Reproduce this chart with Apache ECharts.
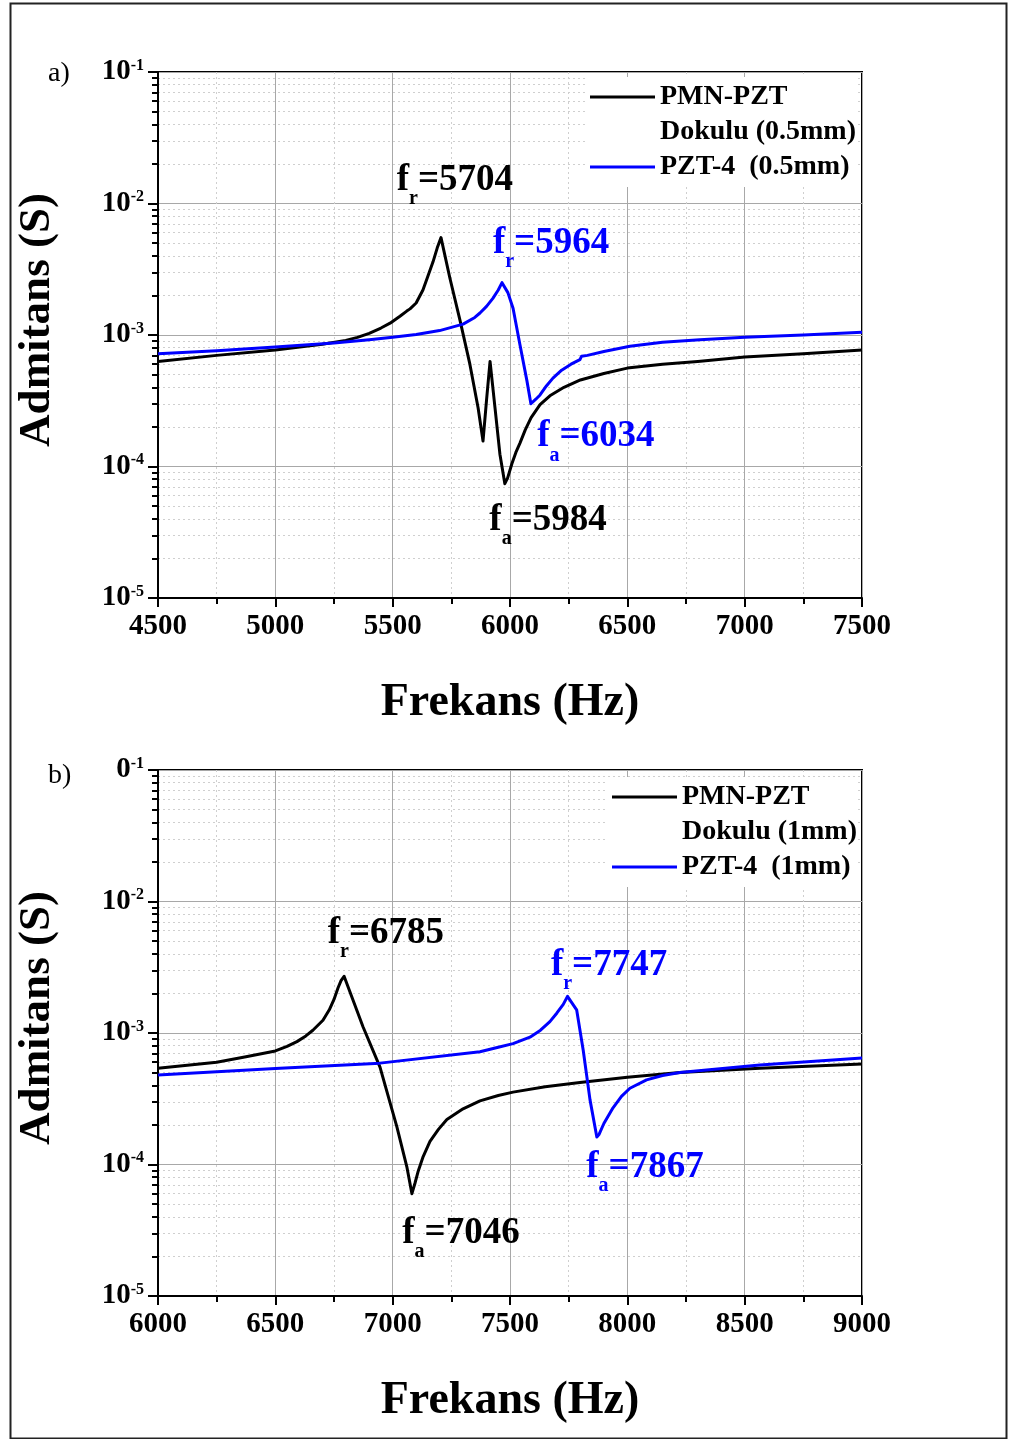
<!DOCTYPE html>
<html lang="tr">
<head>
    <meta charset="UTF-8">
    <title>Admitans - Frekans</title>
    <script src="https://cdn.jsdelivr.net/npm/echarts@6/dist/echarts.min.js"></script>
</head>
<body>
<div id="chart"></div>
<script type="text/javascript">
    // a) 0.5mm
    var topBlackFreq = [4500,4750,5000,5200,5300,5350,5400,5450,5489,5531,5560,5574,5600,5629,5650,5672,5690,5706,5744,5787,5829,5864,5885,5900,5915,5936,5957,5978,5990,6008,6025,6042,6065,6090,6128,6170,6230,6300,6400,6500,6650,6800,7000,7250,7500];
    var topBlackVal  = [6.3e-4,7.0e-4,7.7e-4,8.5e-4,9.1e-4,9.6e-4,1.03e-3,1.13e-3,1.23e-3,1.39e-3,1.52e-3,1.58e-3,1.75e-3,2.2e-3,2.8e-3,3.6e-3,4.6e-3,5.5e-3,2.7e-3,1.29e-3,6.0e-4,2.8e-4,1.56e-4,3.2e-4,6.3e-4,2.8e-4,1.24e-4,7.4e-5,8.2e-5,1.05e-4,1.28e-4,1.5e-4,1.9e-4,2.35e-4,2.95e-4,3.45e-4,4.0e-4,4.55e-4,5.1e-4,5.6e-4,6.0e-4,6.3e-4,6.8e-4,7.2e-4,7.7e-4];
    var topBlueFreq  = [4500,4750,5000,5250,5400,5500,5600,5700,5800,5850,5872,5900,5927,5950,5966,5991,6013,6042,6072,6089,6110,6128,6155,6183,6220,6260,6298,6305,6330,6400,6511,6650,6809,7000,7250,7500];
    var topBlueVal   = [7.2e-4,7.6e-4,8.1e-4,8.7e-4,9.2e-4,9.6e-4,1.01e-3,1.08e-3,1.21e-3,1.36e-3,1.47e-3,1.65e-3,1.9e-3,2.2e-3,2.5e-3,2.1e-3,1.6e-3,8.5e-4,4.5e-4,3.0e-4,3.25e-4,3.5e-4,4.1e-4,4.7e-4,5.4e-4,6.0e-4,6.5e-4,6.9e-4,7.0e-4,7.5e-4,8.2e-4,8.8e-4,9.2e-4,9.6e-4,1.0e-3,1.05e-3];

    // b) 1mm
    var botBlackFreq = [6000,6250,6375,6500,6550,6592,6630,6660,6703,6730,6750,6767,6780,6793,6874,6946,7018,7061,7082,7095,7108,7130,7159,7195,7231,7300,7372,7450,7513,7650,7798,8000,8224,8565,9000];
    var botBlackVal  = [5.4e-4,6.0e-4,6.6e-4,7.3e-4,7.9e-4,8.6e-4,9.5e-4,1.05e-3,1.25e-3,1.5e-3,1.8e-3,2.2e-3,2.5e-3,2.7e-3,1.11e-3,5.5e-4,1.93e-4,9.5e-5,6.0e-5,7.2e-5,8.8e-5,1.15e-4,1.5e-4,1.85e-4,2.2e-4,2.65e-4,3.05e-4,3.35e-4,3.55e-4,3.9e-4,4.2e-4,4.6e-4,5.0e-4,5.4e-4,5.8e-4];
    var botBlueFreq  = [6000,6520,6946,7372,7450,7513,7585,7630,7670,7700,7727,7745,7752,7784,7812,7841,7870,7880,7900,7939,7975,8011,8082,8150,8224,8565,9000];
    var botBlueVal   = [4.8e-4,5.4e-4,5.9e-4,7.2e-4,7.8e-4,8.3e-4,9.3e-4,1.05e-3,1.22e-3,1.42e-3,1.65e-3,1.9e-3,1.95e-3,1.5e-3,7.4e-4,3.1e-4,1.62e-4,1.7e-4,2.05e-4,2.7e-4,3.3e-4,3.8e-4,4.4e-4,4.75e-4,5.0e-4,5.7e-4,6.45e-4];

    // etiketler (f_r, f_a)
    var annTopX    = [5765, 6175, 6366, 6162];
    var annTopY    = [1.5e-2, 4.97e-3, 1.68e-4, 3.9e-5];
    var annTopSub  = ['r', 'r', 'a', 'a'];
    var annTopText = ['=5704', '=5964', '=6034', '=5984'];
    var annTopSer  = [0, 1, 1, 0];
    var annBotX    = [6971, 7922, 8075, 7291];
    var annBotY    = [5.7e-3, 3.26e-3, 9.5e-5, 3.0e-5];
    var annBotSub  = ['r', 'r', 'a', 'a'];
    var annBotText = ['=6785', '=7747', '=7867', '=7046'];
    var annBotSer  = [0, 1, 1, 0];

    var yTickValues   = [1e-5, 1e-4, 1e-3, 1e-2, 1e-1];
    var yTickBaseTop  = ['10', '10', '10', '10', '10'];
    var yTickBaseBot  = ['10', '10', '10', '10', '0'];
    var legendTop = ['PMN-PZT', 'Dokulu (0.5mm)', 'PZT-4  (0.5mm)'];
    var legendBot = ['PMN-PZT ', 'Dokulu (1mm)', 'PZT-4  (1mm)'];

    var FONT = '"Liberation Serif", "Times New Roman", serif';
    var BLUE = '#0000ff';

    var minorTicks = [];
    for (var d = -5; d < -1; d++) {
        for (var m = 2; m <= 9; m++) minorTicks.push(m * Math.pow(10, d));
    }

    function zip(xs, ys) {
        return xs.map(function (x, i) { return [x, ys[i]]; });
    }

    var subRich = {
        f: {fontFamily: FONT, fontWeight: 'bold', fontSize: 37, lineHeight: 37, verticalAlign: 'top'},
        s: {fontFamily: FONT, fontWeight: 'bold', fontSize: 20, lineHeight: 20, verticalAlign: 'top', padding: [27, 0, 0, 0]}
    };

    function marks(xs, ys, subs, texts, sers, idx, color) {
        var pts = [];
        sers.forEach(function (s, i) {
            if (s !== idx) return;
            pts.push({
                coord: [xs[i], ys[i]],
                label: {formatter: '{f|f}{s|' + subs[i] + '}{f|' + texts[i] + '}', color: color}
            });
        });
        return {
            symbol: 'circle', symbolSize: 0, silent: true,
            label: {show: true, position: 'inside', rich: subRich},
            data: pts
        };
    }

    function xAxisCfg(gi, min, max) {
        return {
            type: 'value', gridIndex: gi, min: min, max: max, interval: 500,
            axisLine: {lineStyle: {color: '#000', width: 2}},
            axisTick: {length: 9, lineStyle: {color: '#000', width: 2}},
            minorTick: {show: true, splitNumber: 2, length: 6, lineStyle: {color: '#000', width: 2}},
            splitLine: {show: true, lineStyle: {color: '#a8a8a8', width: 1}},
            minorSplitLine: {show: true, lineStyle: {color: '#cfcfcf', width: 1, type: [2, 3]}},
            axisLabel: {
                color: '#000', fontFamily: FONT, fontWeight: 'bold', fontSize: 29, margin: 14,
                formatter: function (v) { return String(v); }
            },
            name: 'Frekans (Hz)', nameLocation: 'middle', nameGap: 82,
            nameTextStyle: {color: '#000', fontFamily: FONT, fontWeight: 'bold', fontSize: 46}
        };
    }

    function yMajorCfg(gi, bases) {
        return {
            type: 'log', logBase: 10, gridIndex: gi, min: 1e-5, max: 1e-1, position: 'left',
            axisLine: {show: true, lineStyle: {color: '#000', width: 2}},
            axisTick: {show: true, length: 10, customValues: yTickValues, lineStyle: {color: '#000', width: 2}},
            splitLine: {show: true, lineStyle: {color: '#a8a8a8', width: 1}},
            axisLabel: {
                customValues: yTickValues, margin: 14,
                formatter: function (v) {
                    var e = Math.round(Math.log10(v));
                    return '{b|' + bases[e + 5] + '}{s|' + e + '}';
                },
                rich: {
                    b: {fontFamily: FONT, fontWeight: 'bold', fontSize: 29, color: '#000', lineHeight: 29, verticalAlign: 'bottom'},
                    s: {fontFamily: FONT, fontWeight: 'bold', fontSize: 16, color: '#000', lineHeight: 29, verticalAlign: 'top'}
                }
            },
            name: 'Admitans (S)', nameLocation: 'middle', nameGap: 98, nameRotate: 90,
            nameTextStyle: {color: '#000', fontFamily: FONT, fontWeight: 'bold', fontSize: 45, padding: [0, 0, 0, 30]}
        };
    }

    function yMinorCfg(gi) {
        return {
            type: 'log', logBase: 10, gridIndex: gi, min: 1e-5, max: 1e-1, position: 'left',
            axisLine: {show: false},
            axisLabel: {show: false},
            axisTick: {show: true, length: 6, customValues: minorTicks, lineStyle: {color: '#000', width: 2}},
            splitLine: {show: true, lineStyle: {color: '#cfcfcf', width: 1, type: [2, 3]}}
        };
    }

    function lineSeries(name, xi, yi, data, color, mk) {
        return {
            name: name, type: 'line', xAxisIndex: xi, yAxisIndex: yi, data: data,
            showSymbol: false, symbol: 'none', smooth: false,
            lineStyle: {color: color, width: 3, join: 'round'}, itemStyle: {color: color},
            markPoint: mk
        };
    }

    function legendCfg(left, top, names) {
        return {
            orient: 'vertical', left: left, top: top, itemWidth: 65, itemHeight: 3, itemGap: 5,
            backgroundColor: '#fff', padding: [5, 0, 5, 5], selectedMode: false,
            textStyle: {color: '#000', fontFamily: FONT, fontWeight: 'bold', fontSize: 28, lineHeight: 30},
            data: [
                {name: names[0], icon: 'rect'},
                {name: names[1], icon: 'none'},
                {name: names[2], icon: 'rect'}
            ]
        };
    }

    var box = document.getElementById('chart');
    box.style.width = '1011px';
    box.style.height = '1439px';
    var myChart = echarts.init(box, null, {renderer: 'canvas'});

    var option = {
        backgroundColor: '#fff',
        animation: false,
        grid: [
            {left: 158, top: 72, width: 704, height: 526, show: true, borderColor: '#000', borderWidth: 2, backgroundColor: 'transparent'},
            {left: 158, top: 770, width: 704, height: 526, show: true, borderColor: '#000', borderWidth: 2, backgroundColor: 'transparent'}
        ],
        xAxis: [xAxisCfg(0, 4500, 7500), xAxisCfg(1, 6000, 9000)],
        yAxis: [yMajorCfg(0, yTickBaseTop), yMinorCfg(0), yMajorCfg(1, yTickBaseBot), yMinorCfg(1)],
        legend: [legendCfg(585, 77, legendTop), legendCfg(607, 777, legendBot)],
        series: [
            lineSeries(legendTop[0], 0, 0, zip(topBlackFreq, topBlackVal), '#000',
                marks(annTopX, annTopY, annTopSub, annTopText, annTopSer, 0, '#000')),
            lineSeries(legendTop[2], 0, 0, zip(topBlueFreq, topBlueVal), BLUE,
                marks(annTopX, annTopY, annTopSub, annTopText, annTopSer, 1, BLUE)),
            {name: legendTop[1], type: 'line', xAxisIndex: 0, yAxisIndex: 0, data: [], itemStyle: {color: '#fff'}},
            lineSeries(legendBot[0], 1, 2, zip(botBlackFreq, botBlackVal), '#000',
                marks(annBotX, annBotY, annBotSub, annBotText, annBotSer, 0, '#000')),
            lineSeries(legendBot[2], 1, 2, zip(botBlueFreq, botBlueVal), BLUE,
                marks(annBotX, annBotY, annBotSub, annBotText, annBotSer, 1, BLUE)),
            {name: legendBot[1], type: 'line', xAxisIndex: 1, yAxisIndex: 2, data: [], itemStyle: {color: '#fff'}}
        ],
        graphic: [
            {type: 'rect', left: 8, top: 1, shape: {width: 996, height: 1435}, style: {fill: 'none', stroke: '#222', lineWidth: 2}, silent: true, z: -1},
            {type: 'text', left: 48, top: 60, style: {text: 'a)', fontFamily: FONT, fontSize: 28, fill: '#000'}},
            {type: 'text', left: 48, top: 762, style: {text: 'b)', fontFamily: FONT, fontSize: 28, fill: '#000'}}
        ]
    };
    myChart.setOption(option);
</script>
<style>
    *{
        padding:0;
        margin:0;
    }
    body{
        background:#fff;
    }
</style>
</body>
</html>
